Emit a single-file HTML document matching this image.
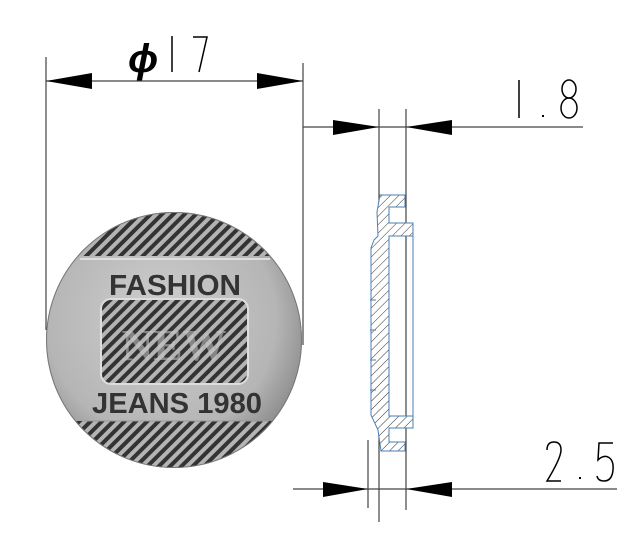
<!DOCTYPE html>
<html><head><style>body{margin:0;background:#fff}</style></head><body>
<svg width="641" height="536" viewBox="0 0 641 536" xmlns="http://www.w3.org/2000/svg">
<defs>
<pattern id="h" width="6" height="6" patternUnits="userSpaceOnUse" patternTransform="rotate(45)"><rect width="6" height="6" fill="#fff"/><line x1="0" y1="0" x2="0" y2="6" stroke="#333" stroke-width="1"/></pattern>
<pattern id="c" width="8" height="8" patternUnits="userSpaceOnUse" patternTransform="rotate(45)"><rect width="8" height="8" fill="#b4b4b4"/><rect width="4" height="8" fill="#333"/></pattern>
<radialGradient id="g" cx="45%" cy="42%" r="60%"><stop offset="0" stop-color="#cfcfcf"/><stop offset="0.75" stop-color="#b5b5b5"/><stop offset="1" stop-color="#8c8c8c"/></radialGradient>
<clipPath id="cc"><circle cx="174" cy="340" r="128"/></clipPath>
</defs>
<g stroke="#444" stroke-width="1.2" fill="none">
<line x1="46" y1="57" x2="46" y2="330"/><line x1="303" y1="63" x2="303" y2="345"/>
<line x1="46" y1="81" x2="303" y2="81"/>
<line x1="379" y1="109" x2="379" y2="522"/><line x1="406" y1="109" x2="406" y2="510"/>
<line x1="368" y1="440" x2="368" y2="508"/>
<line x1="303" y1="127" x2="583" y2="127"/>
<line x1="293" y1="489" x2="617" y2="489"/>
</g>
<g fill="#000">
<polygon points="46,81 92,73 92,89"/><polygon points="303,81 257,73 257,89"/>
<polygon points="379,127 333,120 333,135"/><polygon points="406,127 452,120 452,135"/>
<polygon points="368,489 323,482 323,497"/><polygon points="406,489 452,482 452,497"/>
</g>
<g font-family="Liberation Sans, sans-serif">
<text x="128" y="72" font-size="40" font-weight="bold" font-style="italic">ϕ</text>
<line x1="172" y1="36" x2="172" y2="72" stroke="#000" stroke-width="1.5"/>
<path d="M193 37 H207 L199 72" stroke="#000" stroke-width="1.5" fill="none"/>
<line x1="519" y1="80" x2="519" y2="118" stroke="#000" stroke-width="1.5"/>
<rect x="542" y="115" width="2" height="2"/>
<ellipse cx="569" cy="89" rx="7" ry="9" fill="none" stroke="#000" stroke-width="1.5"/>
<ellipse cx="569" cy="108" rx="8" ry="10" fill="none" stroke="#000" stroke-width="1.5"/>
<path d="M547 450 Q547 442 554 442 Q561 442 561 450 Q561 458 547 481 H561" stroke="#000" stroke-width="1.5" fill="none"/>
<rect x="579" y="477" width="2" height="2"/>
<path d="M613 443 H599 L598 460 Q603 455 608 457 Q614 460 613 470 Q612 481 604 481 Q598 481 597 476" stroke="#000" stroke-width="1.5" fill="none"/>
</g>
<!-- button -->
<circle cx="174" cy="340" r="128" fill="url(#g)"/>
<g clip-path="url(#cc)">
<rect x="40" y="205" width="270" height="51" fill="url(#c)"/>
<rect x="40" y="421" width="270" height="50" fill="url(#c)"/>
</g>
<circle cx="174" cy="340" r="127.5" fill="none" stroke="#777" stroke-width="1"/>
<line x1="80" y1="259" x2="270" y2="259" stroke="#ddd" stroke-width="2"/>
<line x1="82" y1="421" x2="268" y2="421" stroke="#999"/>
<rect x="101" y="299" width="147" height="85" rx="10" fill="url(#c)" stroke="#ddd" stroke-width="2"/>
<text x="175" y="295" text-anchor="middle" font-family="Liberation Sans, sans-serif" font-weight="bold" font-size="29" fill="#333" textLength="132" lengthAdjust="spacingAndGlyphs">FASHION</text>
<text x="174" y="360" text-anchor="middle" font-family="Liberation Serif, serif" font-weight="bold" font-size="44" fill="#c8c8c8" opacity="0.55">NEW</text>
<text x="177" y="413" text-anchor="middle" font-family="Liberation Sans, sans-serif" font-weight="bold" font-size="29" fill="#333" textLength="170" lengthAdjust="spacingAndGlyphs">JEANS 1980</text>
<!-- section -->
<path d="M380 195 H405 V207 H389 V223 H413 V236 H389 V416 H413 V428 H389 V442 H405 V451 H381 L378 430 L371 415 V248 L374 240 L378 236 L377 212 Z" fill="url(#h)" stroke="#4a7fb5" stroke-width="1"/>
<line x1="413" y1="236" x2="413" y2="416" stroke="#4a7fb5" stroke-width="1"/>
<g stroke="#4a7fb5" stroke-width="1">
<line x1="370" y1="300" x2="376" y2="300"/><line x1="370" y1="330" x2="376" y2="330"/>
<line x1="370" y1="360" x2="376" y2="360"/><line x1="370" y1="390" x2="376" y2="390"/>
</g>
</svg>
</body></html>
